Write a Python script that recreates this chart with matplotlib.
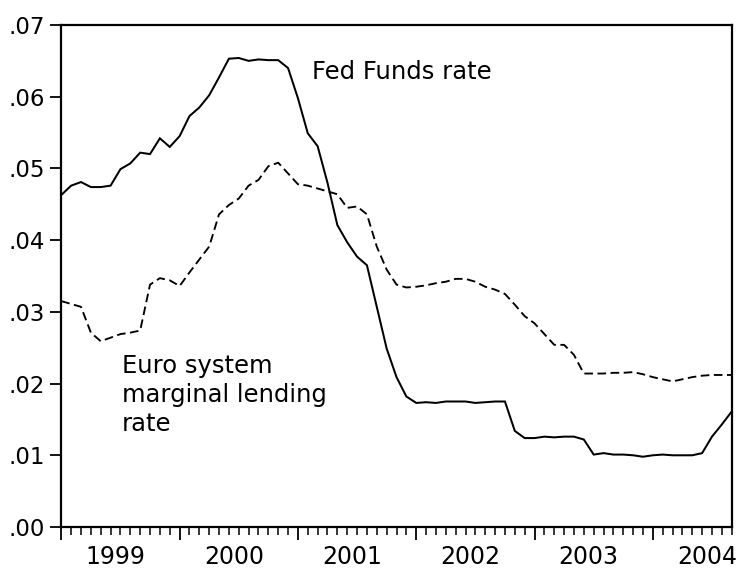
import numpy as np
import matplotlib
matplotlib.use("Agg")
import matplotlib.pyplot as plt
from matplotlib.ticker import FixedLocator, FuncFormatter

# ---- data (monthly, 1999m01 .. 2004m09) ----
years = ["1999", "2000", "2001", "2002", "2003", "2004"]
start_year = 1999

fed_funds = [
    0.0463, 0.0476, 0.0481, 0.0474, 0.0474, 0.0476, 0.0499, 0.0507, 0.0522, 0.0520, 0.0542, 0.0530,
    0.0545, 0.0573, 0.0585, 0.0602, 0.0627, 0.0653, 0.0654, 0.0650, 0.0652, 0.0651, 0.0651, 0.0640,
    0.0598, 0.0549, 0.0531, 0.0480, 0.0421, 0.0397, 0.0377, 0.0365, 0.0307, 0.0249, 0.0209, 0.0182,
    0.0173, 0.0174, 0.0173, 0.0175, 0.0175, 0.0175, 0.0173, 0.0174, 0.0175, 0.0175, 0.0134, 0.0124,
    0.0124, 0.0126, 0.0125, 0.0126, 0.0126, 0.0122, 0.0101, 0.0103, 0.0101, 0.0101, 0.0100, 0.0098,
    0.0100, 0.0101, 0.0100, 0.0100, 0.0100, 0.0103, 0.0126, 0.0143, 0.0161,
]

euro_rate = [
    0.0315, 0.0311, 0.0307, 0.0271, 0.0259, 0.0264, 0.0269, 0.0271, 0.0274, 0.0338, 0.0347, 0.0344,
    0.0336, 0.0355, 0.0373, 0.0391, 0.0436, 0.0449, 0.0458, 0.0476, 0.0484, 0.0503, 0.0508, 0.0493,
    0.0478, 0.0476, 0.0472, 0.0468, 0.0464, 0.0445, 0.0447, 0.0436, 0.0391, 0.0359, 0.0338, 0.0334,
    0.0335, 0.0337, 0.0340, 0.0342, 0.0346, 0.0346, 0.0342, 0.0335, 0.0331, 0.0325, 0.0310, 0.0294,
    0.0284, 0.0269, 0.0254, 0.0254, 0.0240, 0.0214, 0.0214, 0.0214, 0.0215, 0.0215, 0.0216, 0.0213,
    0.0209, 0.0206, 0.0203, 0.0206, 0.0209, 0.0211, 0.0212, 0.0212, 0.0212,
]

y_ticks = [0.00, 0.01, 0.02, 0.03, 0.04, 0.05, 0.06, 0.07]

label_fed = "Fed Funds rate"
label_euro = ["Euro system", "marginal lending", "rate"]

# ---- figure ----
plt.rcParams["font.family"] = ["DejaVu Sans"]
fig = plt.figure(figsize=(7.39, 5.72), dpi=100)
ax = fig.add_axes([61.3 / 739, 45 / 572, (731.7 - 61.3) / 739, 502 / 572])

x = np.arange(len(fed_funds))
ax.plot(x, fed_funds, color="black", lw=1.45, solid_joinstyle="miter")
ax.plot(x, euro_rate, color="black", lw=1.35, linestyle=(0, (4.6, 2.4)))

ax.set_xlim(0, len(fed_funds) - 1)
ax.set_ylim(0, 0.07)

for s in ax.spines.values():
    s.set_linewidth(1.6)
    s.set_color("black")

# y axis
ax.yaxis.set_major_locator(FixedLocator(y_ticks))
ax.yaxis.set_major_formatter(FuncFormatter(lambda v, p: f"{v:.2f}"[1:]))
ax.tick_params(axis="y", which="major", direction="out", length=8, width=1.3,
               labelsize=16.5, pad=4)

# x axis: major ticks at year starts, minor at months, no labels
year_starts = [12 * i for i in range(len(years))]
ax.xaxis.set_major_locator(FixedLocator(year_starts))
ax.xaxis.set_minor_locator(FixedLocator(list(x)))
ax.tick_params(axis="x", which="major", direction="out", length=9.5, width=1.3,
               labelbottom=False)
ax.tick_params(axis="x", which="minor", direction="out", length=5.8, width=1.1)

# year labels centred on each year
sec = ax.secondary_xaxis("bottom")
sec.set_xticks([12 * i + 5.5 for i in range(len(years))])
sec.set_xticklabels(years)
sec.tick_params(axis="x", length=0, labelsize=17, pad=13)
sec.spines["bottom"].set_visible(False)

# annotations
ax.text(25.4, (527 - 79.3) / 7170, label_fed, fontsize=17.5, va="baseline", ha="left")
for line, py in zip(label_euro, [372.7, 401.7, 430.7]):
    ax.text(6.13, (527 - py) / 7170, line, fontsize=17.5, va="baseline", ha="left")

fig.savefig("out.png", dpi=100)
